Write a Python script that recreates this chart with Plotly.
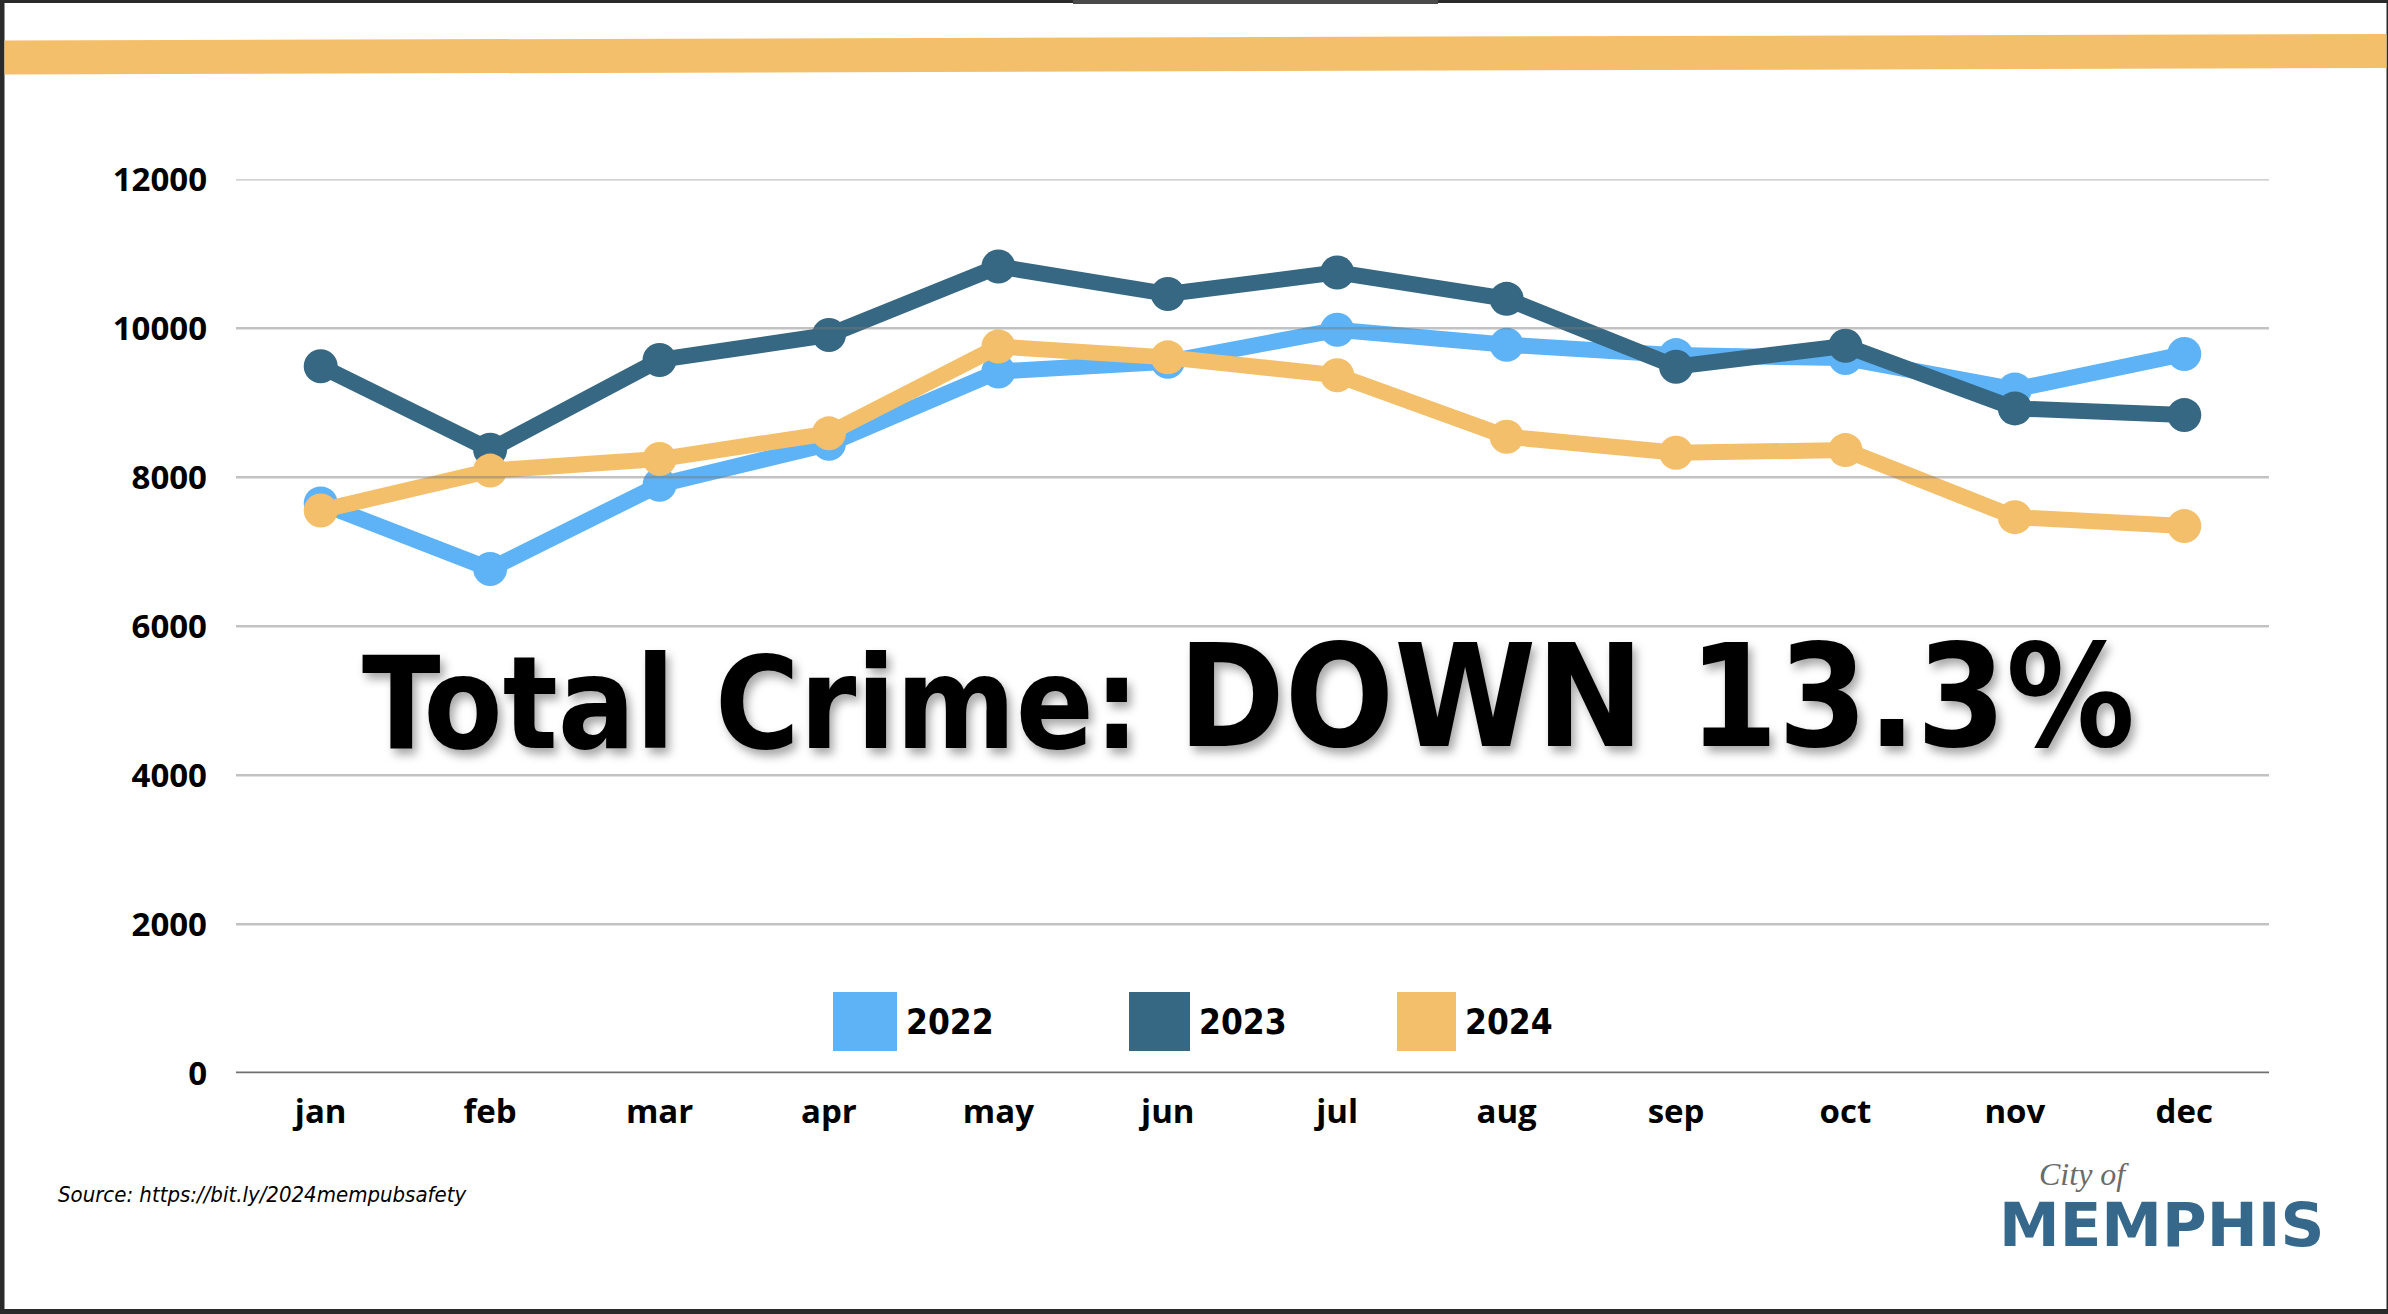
import plotly.graph_objects as go

# ---------------- data ----------------
months = ["jan", "feb", "mar", "apr", "may", "jun", "jul", "aug", "sep", "oct", "nov", "dec"]
crime_2022 = [7650, 6770, 7900, 8450, 9420, 9550, 9980, 9780, 9640, 9600, 9180, 9655]
crime_2023 = [9490, 8370, 9575, 9910, 10830, 10460, 10750, 10395, 9485, 9765, 8925, 8835]
crime_2024 = [7555, 8090, 8245, 8590, 9755, 9610, 9370, 8545, 8330, 8365, 7465, 7345]
series_names = ["2022", "2023", "2024"]
y_ticks = [0, 2000, 4000, 6000, 8000, 10000, 12000]
headline_left = "Total Crime:"
headline_right = "DOWN 13.3%"
source_text = "Source: https://bit.ly/2024mempubsafety"

# ---------------- styles ----------------
W, H = 2388, 1314
colors = ["#5EB3F6", "#366883", "#F4BF6A"]
series = [crime_2022, crime_2023, crime_2024]
NARROW = "DejaVu Sans Condensed, DejaVu Sans, sans-serif"

def px_x(p):
    return p / W

def px_y(p):
    return 1 - p / H

fig = go.Figure()
for name, vals, col in zip(series_names, series, colors):
    fig.add_trace(go.Scatter(
        x=months, y=vals, name=name, mode="lines+markers",
        line=dict(color=col, width=16),
        marker=dict(color=col, size=34),
        cliponaxis=False, showlegend=False, hoverinfo="x+y+name",
    ))

shapes = []
# white page inside a dark frame
shapes.append(dict(type="rect", xref="paper", yref="paper", x0=px_x(4.5), x1=px_x(2386.5),
                   y0=px_y(1309), y1=px_y(3), fillcolor="white", line=dict(width=0), layer="below"))
shapes.append(dict(type="rect", xref="paper", yref="paper", x0=px_x(1073), x1=px_x(1438),
                   y0=px_y(4), y1=px_y(0), fillcolor="#4a4a4a", line=dict(width=0), layer="below"))
# slanted orange band on top
shapes.append(dict(type="path", xref="paper", yref="paper",
                   path="M {a},{b} L {c},{d} L {c},{e} L {a},{f} Z".format(
                       a=px_x(4.5), b=px_y(40.5), c=px_x(2386.5), d=px_y(34), e=px_y(68), f=px_y(74.5)),
                   fillcolor="#F4BF6A", line=dict(width=0), layer="below"))
# gridlines (semi transparent, drawn above the lines)
for t in y_ticks[1:]:
    shapes.append(dict(type="line", xref="x domain", yref="y", x0=0, x1=1, y0=t, y1=t,
                       line=dict(color="rgba(120,120,120,0.45)", width=2.5), layer="above"))
shapes.append(dict(type="line", xref="x domain", yref="y", x0=0, x1=1, y0=0, y1=0,
                   line=dict(color="#707070", width=3.5), layer="above"))

annotations = []
# manual legend
legend_sq_x = [833, 1129, 1397]
legend_sq_w = [64, 61, 59]
for name, col, lx, lw in zip(series_names, colors, legend_sq_x, legend_sq_w):
    shapes.append(dict(type="rect", xref="paper", yref="paper", x0=px_x(lx), x1=px_x(lx + lw),
                       y0=px_y(1051), y1=px_y(992), fillcolor=col, line=dict(width=0)))
    annotations.append(dict(xref="paper", yref="paper", x=px_x(lx + lw + 7), y=px_y(1022),
                            xanchor="left", yanchor="middle", showarrow=False, text=name,
                            font=dict(family=NARROW, size=35, color="black", weight="bold")))

shadow = "4px 6px 10px rgba(0,0,0,0.35)"
annotations.append(dict(xref="paper", yref="paper", x=px_x(1142), y=px_y(703),
                        xanchor="right", yanchor="middle", showarrow=False, text=headline_left,
                        font=dict(family=NARROW, size=128, color="black", weight="bold", shadow=shadow)))
annotations.append(dict(xref="paper", yref="paper", x=px_x(1176), y=px_y(696),
                        xanchor="left", yanchor="middle", showarrow=False, text=headline_right,
                        font=dict(family=NARROW, size=143, color="black", weight="bold", shadow=shadow)))
annotations.append(dict(xref="paper", yref="paper", x=px_x(56), y=px_y(1194),
                        xanchor="left", yanchor="middle", showarrow=False, text=source_text,
                        font=dict(family=NARROW, size=22, color="black", style="italic")))
annotations.append(dict(xref="paper", yref="paper", x=px_x(2037), y=px_y(1174),
                        xanchor="left", yanchor="middle", showarrow=False, text="City of",
                        font=dict(family="Liberation Serif, serif", size=32, color="#6b6b6b", style="italic")))
annotations.append(dict(xref="paper", yref="paper", x=px_x(1997), y=px_y(1224),
                        xanchor="left", yanchor="middle", showarrow=False, text="MEMPHIS",
                        font=dict(family="DejaVu Sans, sans-serif", size=61, color="#35688B", weight="bold")))

fig.update_layout(
    width=W, height=H, autosize=False,
    margin=dict(l=0, r=0, t=0, b=0, pad=0),
    paper_bgcolor="#2a2a2a", plot_bgcolor="rgba(0,0,0,0)",
    xaxis=dict(domain=[236 / W, 2269 / W], type="category", range=[-0.5, 11.5],
               showgrid=False, zeroline=False, showline=False, ticks="", automargin=False,
               tickfont=dict(family="Open Sans, sans-serif", size=33, color="black", weight="bold"),
               ticklabelstandoff=16),
    yaxis=dict(domain=[1 - 1073.3 / H, 1 - 179.3 / H], range=[0, 12000], tickvals=y_ticks,
               tickformat="d", automargin=False,
               showgrid=False, zeroline=False, showline=False, ticks="",
               tickfont=dict(family="Open Sans, sans-serif", size=33, color="black", weight="bold"),
               ticklabelstandoff=28),
    shapes=shapes, annotations=annotations,
    font=dict(family="Open Sans, sans-serif"),
)

fig.write_html("out.html", config={"displayModeBar": False},
               post_script="document.body.style.margin='0';document.body.style.overflow='hidden';")
